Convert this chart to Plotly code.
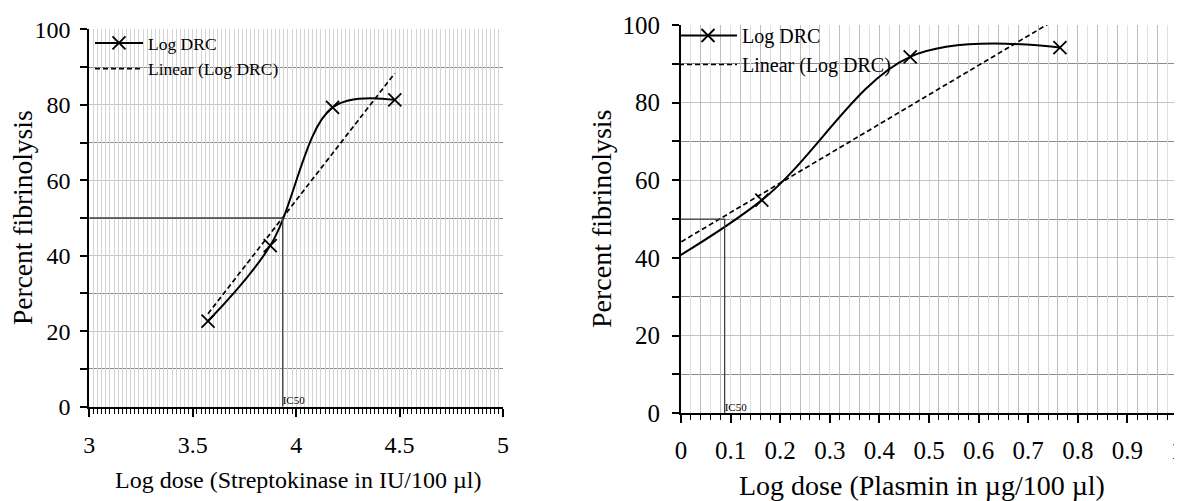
import numpy as np
import plotly.graph_objects as go

# page body has an 8px default margin; figure is sized to sit inside the window
OFF = 8
W, H = 1182 - OFF, 501 - OFF

# ---------------- data ----------------
# Streptokinase (left panel)
sk_logdose = [3.574, 3.875, 4.176, 4.477]
sk_lysis = [22.7, 42.7, 79.3, 81.3]
sk_ic50 = 3.935
# Plasmin (right panel)
pl_logdose = [-0.138, 0.163, 0.462, 0.764]
pl_lysis = [30.5, 54.9, 91.8, 94.2]
pl_ic50 = 0.088

half_level = 50
legend_names = ["Log DRC", "Linear (Log DRC)"]
sk_xtitle = "Log dose (Streptokinase in IU/100 µl)"
pl_xtitle = "Log dose (Plasmin in µg/100 µl)"
ytitle = "Percent fibrinolysis"
ic50_label = "IC50"

sk_xrange = [3, 5]
pl_xrange = [0, 1.0101]
yrange = [0, 100]

FONT = "Liberation Serif"


def px(p):
    return (p - OFF) / W


def py(p):
    return 1 - (p - OFF) / H


def linear_fit(x, y):
    k, b = np.polyfit(x, y, 1)
    xs = np.array([min(x), max(x)])
    return xs, k * xs + b


fig = go.Figure()


def add_panel(xa, ya, xgrid, xs, ys, ic50, xmin, legend):
    fig.add_trace(go.Scatter(
        x=xs, y=ys, mode="lines+markers", name=legend_names[0],
        line=dict(color="black", width=2, shape="spline", smoothing=1),
        marker=dict(symbol="x-thin", size=13, line=dict(color="black", width=1.8)),
        xaxis=xa, yaxis=ya, legend=legend, hoverinfo="skip"))
    tx, ty = linear_fit(xs, ys)
    fig.add_trace(go.Scatter(
        x=tx, y=ty, mode="lines", name=legend_names[1],
        line=dict(color="black", width=1.7, dash="5px,3px"),
        xaxis=xa, yaxis=ya, legend=legend, hoverinfo="skip"))
    fig.add_trace(go.Scatter(
        x=[xmin, ic50, ic50], y=[half_level, half_level, 0], mode="lines",
        line=dict(color="#404040", width=1.3), showlegend=False,
        xaxis=xa, yaxis=ya, hoverinfo="skip"))
    # label drawn on the grid overlay axis (same range/domain as the main axis)
    fig.add_trace(go.Scatter(
        x=[ic50], y=[0], mode="text", text=[ic50_label],
        textposition="top right", cliponaxis=False,
        textfont=dict(family=FONT, size=11, color="black"),
        showlegend=False, xaxis=xgrid, yaxis=ya, hoverinfo="skip"))


add_panel("x", "y", "x3", sk_logdose, sk_lysis, sk_ic50, sk_xrange[0], "legend")
add_panel("x2", "y2", "x4", pl_logdose, pl_lysis, pl_ic50, pl_xrange[0], "legend2")


def xstyle(size, standoff):
    return dict(showgrid=False, zeroline=False, showline=True, linecolor="black",
                linewidth=2, ticks="outside", ticklen=8, tickwidth=1.5, tickcolor="black",
                tickfont=dict(family=FONT, size=size, color="black"),
                ticklabelstandoff=standoff, ticklabeloverflow="allow")


def ystyle(size, standoff):
    return dict(range=yrange, dtick=20, tick0=0, zeroline=False, showline=True,
                linecolor="black", linewidth=2, ticks="outside", ticklen=7, tickwidth=1.5,
                tickcolor="black", tickfont=dict(family=FONT, size=size, color="black"),
                ticklabelstandoff=standoff,
                showgrid=True, gridcolor="#c4c4c4", gridwidth=1,
                minor=dict(dtick=10, ticks="outside", ticklen=7, tickwidth=1.5,
                           tickcolor="black", showgrid=True, gridcolor="#8a8a8a",
                           gridwidth=1))


grid_x = dict(showticklabels=False, ticks="", showline=False, zeroline=False,
              showgrid=True, gridwidth=1)

fig.update_layout(
    template="none",
    width=W, height=H, margin=dict(l=0, r=0, t=0, b=0, pad=0),
    paper_bgcolor="white", plot_bgcolor="white",
    font=dict(family=FONT, color="black", size=20),
    xaxis=dict(domain=[px(89.3), px(503)], range=sk_xrange, dtick=0.5, tick0=3,
               anchor="y",
               minor=dict(dtick=0.02, ticks="outside", ticklen=5, tickwidth=1.2,
                          tickcolor="black"), **xstyle(24, 7)),
    yaxis=dict(domain=[py(406.7), py(29.3)], anchor="x", **ystyle(24, 5)),
    xaxis3=dict(overlaying="x", anchor="y", range=sk_xrange, dtick=0.02, tick0=3,
                gridcolor="#d4d4d4", **grid_x),
    xaxis2=dict(domain=[px(681), 1.0], range=pl_xrange, dtick=0.1, tick0=0,
                anchor="y2",
                minor=dict(dtick=0.02, ticks="outside", ticklen=5, tickwidth=1.3,
                           tickcolor="black"), **xstyle(25, 6)),
    yaxis2=dict(domain=[py(413.3), py(25)], anchor="x2", **ystyle(25, 7)),
    xaxis4=dict(overlaying="x2", anchor="y2", range=pl_xrange, dtick=0.04, tick0=0,
                gridcolor="#bdbdbd",
                minor=dict(dtick=0.02, showgrid=True, gridcolor="#e0e0e0", ticks=""),
                **grid_x),
    legend=dict(x=px(90), y=py(25), xanchor="left", yanchor="top",
                bgcolor="rgba(0,0,0,0)", itemwidth=48, tracegroupgap=0,
                font=dict(family=FONT, size=17.5, color="black")),
    legend2=dict(x=px(674), y=py(16), xanchor="left", yanchor="top",
                 bgcolor="rgba(0,0,0,0)", itemwidth=58, tracegroupgap=0,
                 font=dict(family=FONT, size=20, color="black")),
    showlegend=True,
    annotations=[
        dict(text=ytitle, x=px(22), y=py(218), xref="paper", yref="paper",
             xanchor="center", yanchor="middle", textangle=-90, showarrow=False,
             font=dict(family=FONT, size=27.5, color="black")),
        dict(text=sk_xtitle, x=px(298), y=py(480), xref="paper", yref="paper",
             xanchor="center", yanchor="middle", showarrow=False,
             font=dict(family=FONT, size=24, color="black")),
        dict(text=ytitle, x=px(601), y=py(219), xref="paper", yref="paper",
             xanchor="center", yanchor="middle", textangle=-90, showarrow=False,
             font=dict(family=FONT, size=28, color="black")),
        dict(text=pl_xtitle, x=px(922), y=py(485), xref="paper", yref="paper",
             xanchor="center", yanchor="middle", showarrow=False,
             font=dict(family=FONT, size=28, color="black")),
    ],
)

fig.write_html("out.html")
